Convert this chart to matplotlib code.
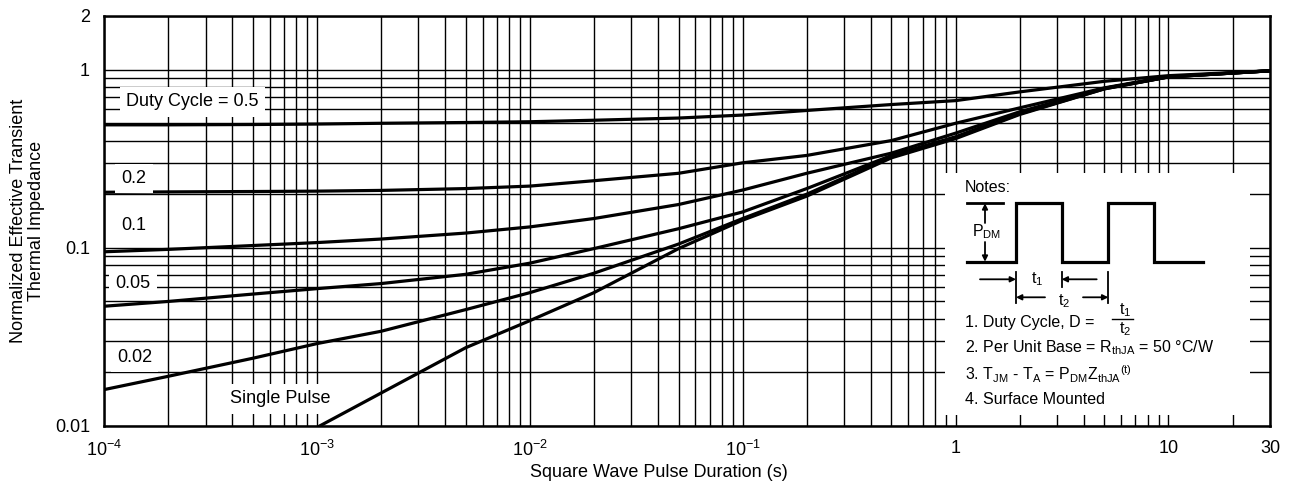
import numpy as np
import matplotlib.pyplot as plt
from matplotlib.ticker import LogLocator, NullFormatter

plt.rcParams['font.family'] = ['Liberation Sans', 'DejaVu Sans']
plt.rcParams['mathtext.fontset'] = 'custom'
plt.rcParams['mathtext.rm'] = 'Liberation Sans'
plt.rcParams['mathtext.it'] = 'Liberation Sans:italic'
plt.rcParams['mathtext.bf'] = 'Liberation Sans:bold'

# square wave pulse duration (s)
pulse_t = [1e-4, 2e-4, 5e-4, 1e-3, 2e-3, 5e-3, 1e-2, 2e-2, 5e-2, 1e-1,
           2e-1, 5e-1, 1, 2, 5, 10, 30]
# normalized transient thermal impedance for each duty cycle
zth_d50 = [0.49, 0.49, 0.492, 0.495, 0.50, 0.505, 0.51, 0.52, 0.535, 0.556,
           0.59, 0.637, 0.67, 0.75, 0.86, 0.925, 0.985]
zth_d20 = [0.205, 0.206, 0.207, 0.208, 0.21, 0.215, 0.222, 0.238, 0.262, 0.30,
           0.33, 0.40, 0.50, 0.61, 0.79, 0.915, 0.985]
zth_d10 = [0.095, 0.098, 0.103, 0.107, 0.112, 0.121, 0.131, 0.146, 0.175, 0.211,
           0.262, 0.34, 0.44, 0.58, 0.785, 0.912, 0.985]
zth_d05 = [0.047, 0.05, 0.055, 0.059, 0.063, 0.071, 0.082, 0.099, 0.128, 0.159,
           0.215, 0.33, 0.42, 0.57, 0.785, 0.91, 0.985]
zth_d02 = [0.016, 0.019, 0.024, 0.029, 0.034, 0.045, 0.056, 0.072, 0.105, 0.146,
           0.20, 0.325, 0.415, 0.565, 0.78, 0.91, 0.985]
single_t = [1.03e-3, 2e-3, 5e-3, 1e-2, 2e-2, 5e-2, 1e-1, 2e-1, 5e-1, 1, 2, 5, 10, 30]
single_z = [0.01, 0.0153, 0.0275, 0.039, 0.056, 0.099, 0.143, 0.195, 0.32, 0.41,
            0.56, 0.78, 0.91, 0.985]

x_ticks = [1e-4, 1e-3, 1e-2, 1e-1, 1, 10, 30]
x_ticklabels = [r'10$^{-4}$', r'10$^{-3}$', r'10$^{-2}$', r'10$^{-1}$', '1', '10', '30']
y_ticks = [0.01, 0.1, 1, 2]
y_ticklabels = ['0.01', '0.1', '1', '2']

W, H = 1289, 483
fig = plt.figure(figsize=(W / 100, H / 100), dpi=100)
ax = fig.add_axes([104 / W, 57 / H, 1166 / W, 410 / H])
ax.set_xscale('log')
ax.set_yscale('log')

for zz in [zth_d50, zth_d20, zth_d10, zth_d05, zth_d02]:
    ax.plot(pulse_t, zz, color='black', lw=2.3, solid_joinstyle='round')
ax.plot(single_t, single_z, color='black', lw=2.3, solid_joinstyle='round')

ax.set_xlim(1e-4, 30)
ax.set_ylim(0.01, 2)
ax.set_xticks(x_ticks)
ax.set_xticklabels(x_ticklabels)
ax.set_yticks(y_ticks)
ax.set_yticklabels(y_ticklabels)
ax.xaxis.set_minor_locator(LogLocator(base=10, subs=np.arange(2, 10)))
ax.yaxis.set_minor_locator(LogLocator(base=10, subs=np.arange(2, 10)))
ax.xaxis.set_minor_formatter(NullFormatter())
ax.yaxis.set_minor_formatter(NullFormatter())
ax.set_axisbelow(True)
ax.grid(which='both', color='black', lw=1.0)
ax.tick_params(which='both', length=0, labelsize=13)
ax.tick_params(axis='x', pad=10)
ax.tick_params(axis='y', pad=10)
for s in ax.spines.values():
    s.set_linewidth(1.8)

ax.set_xlabel('Square Wave Pulse Duration (s)', fontsize=13)
ax.xaxis.set_label_coords(0.476, -0.093)
ax.set_ylabel('Normalized Effective Transient\nThermal Impedance', fontsize=13,
              linespacing=1.05)
ax.yaxis.set_label_coords(-0.051, 0.5)

# curve labels
box = dict(boxstyle='square,pad=0.35', fc='white', ec='none')
ax.text(1.27e-4, 0.66, 'Duty Cycle = 0.5', fontsize=13, va='center', bbox=box)
ax.text(1.21e-4, 0.245, '0.2', fontsize=13, va='center', bbox=box)
ax.text(1.2e-4, 0.133, '0.1', fontsize=13, va='center', bbox=box)
ax.text(1.13e-4, 0.063, '0.05', fontsize=13, va='center', bbox=box)
ax.text(1.15e-4, 0.0242, '0.02', fontsize=13, va='center', bbox=box)
ax.text(3.9e-4, 0.0142, 'Single Pulse', fontsize=13, va='center', bbox=box)

# notes box (local pixel-like coords, y down)
nax = fig.add_axes([945 / W, (H - 415) / H, 305 / W, 242 / H])
nax.set_xlim(0, 305)
nax.set_ylim(242, 0)
nax.set_facecolor('white')
nax.set_xticks([])
nax.set_yticks([])
for s in nax.spines.values():
    s.set_visible(False)

base, top = 88.7, 30.3
x0, r1, t1w, t2p, xend = 21.7, 71, 45.7, 92.3, 258.3
wave_x = [x0, r1, r1, r1 + t1w, r1 + t1w, r1 + t2p, r1 + t2p, r1 + t2p + t1w,
          r1 + t2p + t1w, xend]
wave_y = [base, base, top, top, base, base, top, top, base, base]
nax.plot(wave_x, wave_y, color='black', lw=2.3, solid_joinstyle='miter')
nax.plot([x0, 58], [top, top], color='black', lw=2.0)

arr = dict(arrowstyle='-|>', color='black', lw=1.3, mutation_scale=8,
           shrinkA=0, shrinkB=0)
nax.annotate('', xy=(40, top), xytext=(40, 50), arrowprops=arr)
nax.annotate('', xy=(40, base), xytext=(40, 69), arrowprops=arr)
nax.text(27, 59, r'P$_{\mathrm{DM}}$', fontsize=11.5, va='center')

# t1 / t2 dimension marks
tk = dict(color='black', lw=1.3)
nax.plot([r1, r1], [98.7, 130], **tk)
nax.plot([r1 + t1w, r1 + t1w], [98.7, 114], **tk)
nax.plot([r1 + t2p, r1 + t2p], [98.7, 130], **tk)
nax.annotate('', xy=(r1, 106.3), xytext=(35, 106.3), arrowprops=arr)
nax.annotate('', xy=(r1 + t1w, 106.3), xytext=(151.7, 106.3), arrowprops=arr)
nax.annotate('', xy=(r1, 124.3), xytext=(100, 124.3), arrowprops=arr)
nax.annotate('', xy=(r1 + t2p, 124.3), xytext=(138, 124.3), arrowprops=arr)
nax.text(91.7, 106.3, r't$_1$', fontsize=11.5, ha='center', va='center')
nax.text(119, 128, r't$_2$', fontsize=11.5, ha='center', va='center')

nax.text(20, 15, 'Notes:', fontsize=11.5, va='center')
nax.text(20, 150, '1. Duty Cycle, D =', fontsize=11.5, va='center')
nax.text(180, 137, r't$_1$', fontsize=11.5, ha='center', va='center')
nax.plot([166.7, 188.3], [146.3, 146.3], color='black', lw=1.0)
nax.text(180, 156.5, r't$_2$', fontsize=11.5, ha='center', va='center')
nax.text(20, 175, r'2. Per Unit Base = R$_{\mathrm{thJA}}$ = 50 °C/W',
         fontsize=11.5, va='center')
nax.text(20, 201, r'3. T$_{\mathrm{JM}}$ - T$_{\mathrm{A}}$ = P$_{\mathrm{DM}}$'
         r'Z$_{\mathrm{thJA}}$$^{\mathrm{(t)}}$', fontsize=11.5, va='center')
nax.text(20, 226.3, '4. Surface Mounted', fontsize=11.5, va='center')

plt.savefig('out.png', dpi=100)
